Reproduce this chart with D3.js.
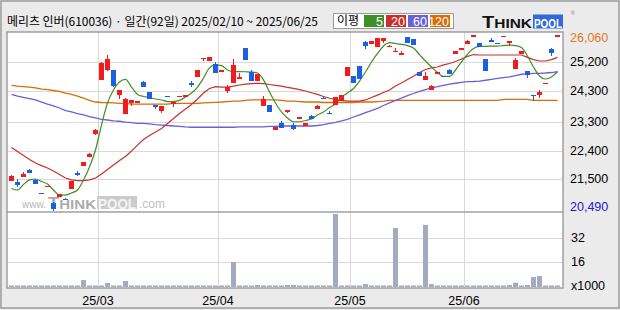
<!DOCTYPE html>
<html><head><meta charset="utf-8">
<script src="https://cdn.jsdelivr.net/npm/d3@7"></script>
<style>html,body{margin:0;padding:0;background:#ebebeb;}svg{display:block}</style>
</head><body>
<svg id="c" width="620" height="310"></svg>
<script>
// ---------- DATA ----------
const title = "메리츠 인버(610036) · 일간(92일) 2025/02/10 ~ 2025/06/25";
const dates = [
"2025-02-10","2025-02-11","2025-02-12","2025-02-13","2025-02-14","2025-02-17","2025-02-18","2025-02-19","2025-02-20","2025-02-21",
"2025-02-24","2025-02-25","2025-02-26","2025-02-27","2025-02-28",
"2025-03-04","2025-03-05","2025-03-06","2025-03-07","2025-03-10","2025-03-11","2025-03-12","2025-03-13","2025-03-14","2025-03-17",
"2025-03-18","2025-03-19","2025-03-20","2025-03-21","2025-03-24","2025-03-25","2025-03-26","2025-03-27","2025-03-28","2025-03-31",
"2025-04-01","2025-04-02","2025-04-03","2025-04-04","2025-04-07","2025-04-08","2025-04-09","2025-04-10","2025-04-11","2025-04-14",
"2025-04-15","2025-04-16","2025-04-17","2025-04-18","2025-04-21","2025-04-22","2025-04-23","2025-04-24","2025-04-25","2025-04-28",
"2025-04-29","2025-04-30",
"2025-05-02","2025-05-07","2025-05-08","2025-05-09","2025-05-12","2025-05-13","2025-05-14","2025-05-15","2025-05-16","2025-05-19",
"2025-05-20","2025-05-21","2025-05-22","2025-05-23","2025-05-26","2025-05-27","2025-05-28","2025-05-29","2025-05-30",
"2025-06-02","2025-06-04","2025-06-05","2025-06-09","2025-06-10","2025-06-11","2025-06-12","2025-06-13","2025-06-16","2025-06-17",
"2025-06-18","2025-06-19","2025-06-20","2025-06-23","2025-06-24","2025-06-25"];

const open = [21450,21420,21575,21790,21475,21055,21240,20745,20925,20870,21195,21705,21925,22210,22940,
24650,24950,24960,24165,23555,23915,23905,24570,24260,23850,23670,24130,23880,24130,24150,24540,24745,25345,25255,25150,
24945,24285,24555,24685,25655,24895,24620,23830,23840,23065,23280,23640,23215,23455,23195,23500,23735,24080,23600,23860,23975,24780,
24760,25085,25845,25795,25700,25890,25715,25555,25435,25995,25935,24905,24650,24335,24880,24765,24970,25465,25605,
25795,26055,25815,25310,25910,25810,26025,25825,25000,25465,24930,24160,24155,24540,25625,26055];
const high = [21640,21505,21725,21830,21505,21055,21290,20760,21030,20890,21440,21760,22045,22330,23090,
25215,25445,24960,24325,24080,24010,23990,24620,24260,23850,23810,24130,23945,24135,24155,24600,24960,25350,25360,25225,
24950,24485,25300,24855,25655,24960,24835,24135,23840,23145,23350,23690,23270,23460,23280,23535,23850,24125,23660,24105,24165,25055,
24760,25085,25890,25870,25965,25965,25760,25665,25570,25995,25935,24905,24885,24485,24885,24765,25000,25560,25655,
25910,26060,25815,25310,25975,25810,26030,25880,25330,25560,24930,24160,24315,24545,25665,26060];
const low = [21450,21260,21575,21685,21345,21050,21240,20490,20925,20830,21195,21600,21925,22210,22900,
24650,24930,24430,24040,23555,23820,23905,24410,24050,23735,23605,24125,23795,24130,24150,24430,24745,25255,25255,24875,
24945,24220,24555,24685,25285,24620,24620,23830,23640,23065,23130,23605,23060,23455,23195,23405,23735,24030,23595,23860,23975,24780,
24555,24685,25635,25795,25700,25805,25680,25555,25435,25825,25750,24780,24650,24335,24825,24745,24840,25465,25605,
25795,26055,25700,24940,25855,25805,26025,25730,25000,25465,24715,23985,24080,24540,25415,26055];
const close = [21610,21315,21670,21705,21355,21050,21290,20565,21030,20860,21440,21640,22045,22285,23050,
25170,25310,24460,24325,24050,24010,23970,24410,24050,23795,23810,24125,23945,24135,24155,24475,24960,25350,25360,24875,
24950,24420,25120,24740,25285,24620,24835,24030,23640,23145,23130,23690,23100,23460,23280,23405,23820,24030,23595,24105,24165,25055,
24555,24685,25720,25870,25965,25965,25720,25560,25490,25825,25750,24780,24770,24450,24885,24745,24840,25560,25655,
25880,26060,25700,24940,25855,25805,26030,25880,25275,25560,24800,24155,24270,24545,25500,26060];

const volume = [0,0,0,0,0,0,0,0,0,0,0,0,4500,0,0,0,2600,0,0,3900,
0,0,0,0,0,0,0,0,0,0,0,0,0,0,0,0,0,16200,0,0,
0,1300,0,0,0,0,1300,1300,0,0,0,0,0,0,47400,0,0,0,0,1900,
0,0,0,0,38300,0,0,0,0,40300,1900,0,0,0,0,0,0,0,0,0,
0,0,0,1300,2800,0,1300,6500,7100,0,0,0];

const ma5 = [21205,21155,21330,21475,21505,21425,21345,21155,20995,20995,
21060,21155,21475,21885,22425,23215,23915,24325,24580,24660,
24420,24185,24120,24090,24040,24010,23960,23960,23995,24105,
24230,24420,24705,25025,25120,25100,24960,24910,24910,24905,
24895,24865,24645,24260,23915,23630,23440,23320,23320,23360,
23405,23535,23630,23770,23880,24105,24230,24375,24610,24895,
25215,25485,25720,25830,25800,25770,25735,25655,25450,25245,
25055,24880,24755,24755,24960,25215,25465,25640,25710,25710,
25720,25720,25735,25750,25735,25675,25405,25055,24770,24675,
24740,24910];
const ma20 = [22505,22375,22250,22125,22010,21930,21855,21760,21645,21535,
21475,21455,21455,21475,21535,21665,21805,21950,22090,22220,
22390,22580,22755,22885,22995,23105,23265,23420,23580,23725,
23865,24040,24230,24375,24435,24420,24420,24450,24485,24515,
24530,24540,24530,24500,24475,24450,24410,24380,24340,24295,
24240,24185,24120,24065,24025,23995,23975,23975,23975,24010,
24090,24165,24245,24325,24450,24550,24660,24760,24880,24975,
25025,25055,25120,25165,25230,25310,25390,25450,25435,25435,
25435,25435,25435,25435,25435,25435,25360,25290,25245,25245,
25290,25360];
const ma60 = [24185,24135,24095,24055,24010,23945,23880,23820,23755,23675,
23630,23580,23535,23485,23440,23395,23375,23350,23335,23310,
23290,23270,23265,23250,23230,23215,23200,23185,23175,23155,
23145,23145,23145,23145,23145,23145,23145,23145,23160,23160,
23160,23160,23160,23175,23175,23185,23185,23185,23185,23185,
23185,23200,23230,23265,23300,23345,23395,23470,23535,23610,
23675,23745,23835,23915,23995,24070,24150,24215,24285,24340,
24390,24430,24475,24510,24540,24570,24590,24595,24610,24635,
24665,24695,24720,24745,24785,24825,24840,24850,24855,24865,
24880,24905];
const ma120 = [24470,24450,24435,24420,24390,24355,24340,24310,24280,24230,
24185,24135,24070,23995,23945,23930,23925,23915,23905,23900,
23880,23880,23880,23880,23880,23880,23880,23900,23900,23900,
23900,23905,23915,23925,23935,23945,23960,23975,23975,23995,
24010,24010,24010,24010,24010,23995,23975,23975,23960,23945,
23945,23945,23930,23930,23930,23930,23930,23930,23945,23945,
23945,23960,23975,23995,24000,24000,24000,24000,24000,24000,
24000,24000,24000,24000,24000,24000,24000,24000,24000,24000,
24000,24000,24030,24030,24030,24030,24030,24000,24000,24000,
24000,24000];

const priceGrid = [25200, 24300, 23300, 22400, 21500];
const priceLabels = ["25,200","24,300","23,300","22,400","21,500"];
const maxPrice = 26060, minPrice = 20490;
const maxLabel = "26,060", minLabel = "20,490";
const volGrid = [16000, 32000];
const volLabels = ["16","32"];
const volUnit = "x1000";
const monthStarts = ["2025-03-04","2025-04-01","2025-05-02","2025-06-02"];
const monthLabels = ["25/03","25/04","25/05","25/06"];
const legendNames = ["5","20","60","120"];
const legendColors = ["#3f8f29","#c8302b","#6b5ed8","#d96c05"];

// ---------- CHART ----------
const svg = d3.select("#c");
const FONT = "'Liberation Sans', Arial, sans-serif";
const KFONT = "'Noto Sans CJK KR', 'Noto Sans', sans-serif";
const P = {l:7, r:563, t:32, m:212, b:288};

svg.append("rect").attr("x",1).attr("y",1).attr("width",618).attr("height",307)
  .attr("fill","#ebebeb").attr("stroke","#9c9c9c").attr("stroke-width",1.5);

const x = d3.scaleBand().domain(dates).range([8, 560]);
const y = d3.scaleLinear().domain([minPrice, maxPrice]).range([211, 35.3]);
const yv = d3.scaleLinear().domain([0, 48700]).range([287, 212]);
const cx = d => x(d) + 3.5;

// panels
svg.append("rect").attr("x",P.l).attr("y",P.t).attr("width",P.r-P.l).attr("height",P.m-P.t).attr("fill","#fff");
svg.append("rect").attr("x",P.l).attr("y",P.m).attr("width",P.r-P.l).attr("height",P.b-P.m).attr("fill","#fff");

const grid = svg.append("g").attr("stroke","#d9d9d9").attr("stroke-width",1).attr("shape-rendering","crispEdges");
priceGrid.forEach(v => grid.append("line").attr("x1",P.l).attr("x2",P.r).attr("y1",Math.round(y(v))+0.5).attr("y2",Math.round(y(v))+0.5));
volGrid.forEach(v => grid.append("line").attr("x1",P.l).attr("x2",P.r).attr("y1",Math.round(yv(v))+0.5).attr("y2",Math.round(yv(v))+0.5));
monthStarts.forEach(d => grid.append("line").attr("x1",x(d)+0.5).attr("x2",x(d)+0.5).attr("y1",P.t).attr("y2",P.b));

// watermark
const wm = svg.append("g");
wm.append("text").attr("x",22).attr("y",208).attr("font-family",FONT).attr("font-size",10).attr("fill","#b8b8b8").text("www.");
wm.append("text").attr("x",48).attr("y",208.5).attr("font-family",FONT).attr("font-weight","bold").attr("fill","#ababab")
  .attr("textLength",48).attr("lengthAdjust","spacingAndGlyphs")
  .call(t=>{t.append("tspan").attr("font-size",16).text("T");t.append("tspan").attr("font-size",13).text("HINK");});
wm.append("rect").attr("x",97).attr("y",196).attr("width",40).attr("height",13).attr("fill","#cbcbcb");
wm.append("text").attr("x",98).attr("y",208.5).attr("font-family",FONT).attr("font-weight","bold").attr("font-size",14)
  .attr("fill","#f4f4f4").attr("textLength",38).attr("lengthAdjust","spacingAndGlyphs").text("POOL");
wm.append("text").attr("x",139).attr("y",208).attr("font-family",FONT).attr("font-size",12).attr("fill","#c2c2c2").text(".com");

// moving averages
const mkLine = curve => d3.line().x((v,i)=>cx(dates[i])).y(v=>y(v)).curve(curve);
const maG = svg.append("g").attr("fill","none").attr("stroke-width",1);
maG.append("path").attr("d",mkLine(d3.curveLinear)(ma120)).attr("stroke",legendColors[3]).attr("stroke-width",1.3);
maG.append("path").attr("d",mkLine(d3.curveLinear)(ma60)).attr("stroke",legendColors[2]).attr("stroke-width",1.3);
maG.append("path").attr("d",mkLine(d3.curveLinear)(ma20)).attr("stroke",legendColors[1]).attr("stroke-width",1.2);
maG.append("path").attr("d",mkLine(d3.curveMonotoneX)(ma5)).attr("stroke",legendColors[0]).attr("stroke-width",1.2);

// candles
const UP = "#f01b1b", DN = "#1d5fe3";
const cg = svg.append("g").attr("shape-rendering","crispEdges");
dates.forEach((d,i) => {
  const col = close[i] >= open[i] ? UP : DN;
  const top = y(Math.max(open[i], close[i])), bot = y(Math.min(open[i], close[i]));
  cg.append("rect").attr("x",x(d)+3).attr("width",1).attr("y",y(high[i])).attr("height",Math.max(1,y(low[i])-y(high[i]))).attr("fill",col);
  cg.append("rect").attr("x",x(d)+1).attr("width",5).attr("y",top).attr("height",Math.max(1.2,bot-top)).attr("fill",col);
});

// volume
const vg = svg.append("g");
dates.forEach((d,i) => {
  const yy = volume[i] > 0 ? yv(volume[i]) : 285.5;
  vg.append("rect").attr("x",x(d)+1).attr("width",5).attr("y",yy).attr("height",287-yy).attr("fill","#a3abc3");
});

// panel borders
svg.append("rect").attr("x",P.l).attr("y",P.t).attr("width",P.r-P.l).attr("height",P.b-P.t)
  .attr("fill","none").attr("stroke","#a0a0a0").attr("stroke-width",1.5);
svg.append("line").attr("x1",P.l).attr("x2",P.r).attr("y1",P.m).attr("y2",P.m).attr("stroke","#a0a0a0").attr("stroke-width",1.5);

// right axis labels
const ax = svg.append("g").attr("font-family",FONT).attr("font-size",12.5).attr("dominant-baseline","central");
priceGrid.forEach((v,i) => ax.append("text").attr("x",570).attr("y",y(v)).attr("fill","#000").text(priceLabels[i]));
ax.append("text").attr("x",570).attr("y",Math.max(38,y(maxPrice))).attr("fill","#e07a1e").text(maxLabel);
ax.append("text").attr("x",570).attr("y",Math.min(207,y(minPrice))).attr("fill","#1a1ad2").text(minLabel);
volGrid.forEach((v,i) => ax.append("text").attr("x",571).attr("y",yv(v)).attr("fill","#000").text(volLabels[i]));
ax.append("text").attr("x",571).attr("y",286).attr("fill","#000").text(volUnit);

// x labels
const xl = svg.append("g").attr("font-family",FONT).attr("font-size",12.5).attr("text-anchor","middle").attr("dominant-baseline","central");
monthStarts.forEach((d,i) => xl.append("text").attr("x",x(d)).attr("y",300.5).attr("fill","#000").text(monthLabels[i]));

// title
svg.append("text").attr("x",7).attr("y",25.5).attr("font-family",KFONT).attr("font-size",12).attr("fill","#000")
  .attr("textLength",311).attr("lengthAdjust","spacingAndGlyphs").text(title);

// legend
const lg = svg.append("g");
lg.append("rect").attr("x",333.5).attr("y",13.5).attr("width",120).attr("height",15).attr("fill","#fff").attr("stroke","#9a9a9a");
lg.append("text").attr("x",337).attr("y",25).attr("font-family",KFONT).attr("font-size",12).attr("fill","#000").text("이평");
const lx = [364, 386, 408, 430];
legendNames.forEach((n,i) => {
  lg.append("rect").attr("x",lx[i]).attr("y",15).attr("width",20).attr("height",12).attr("fill",legendColors[i]);
  lg.append("text").attr("x",lx[i]+19).attr("y",25.5).attr("text-anchor","end").attr("font-family",FONT).attr("font-size",12.5).attr("fill","#fff").text(n);
});

// logo
const lo = svg.append("g");
lo.append("text").attr("x",482).attr("y",27.7).attr("font-family",FONT).attr("font-weight","bold").attr("fill","#111")
  .attr("textLength",50).attr("lengthAdjust","spacingAndGlyphs")
  .call(t=>{t.append("tspan").attr("font-size",17).text("T");t.append("tspan").attr("font-size",13).text("HINK");});
lo.append("rect").attr("x",533).attr("y",14.5).attr("width",30).attr("height",14).attr("fill","#3168dc");
lo.append("text").attr("x",534).attr("y",27.5).attr("font-family",FONT).attr("font-weight","bold").attr("font-size",13)
  .attr("fill","#fff").attr("textLength",28).attr("lengthAdjust","spacingAndGlyphs").text("POOL");
lo.append("text").attr("x",571).attr("y",15).attr("font-family",FONT).attr("font-size",5).attr("fill","#777").text("®");
</script>
</body></html>
